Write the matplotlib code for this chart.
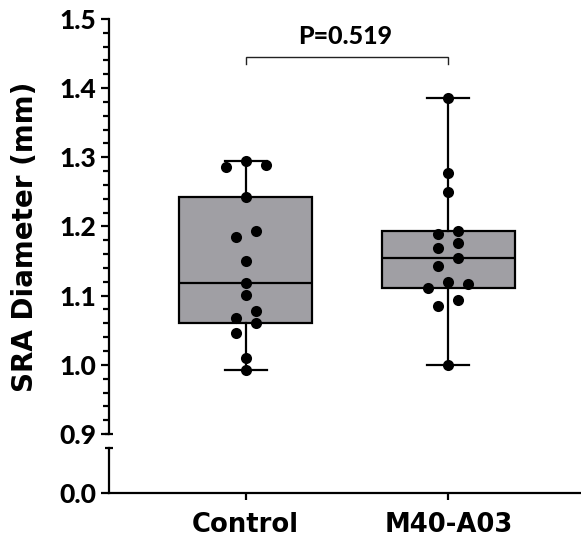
import numpy as np
import matplotlib
matplotlib.use("Agg")
import matplotlib.pyplot as plt
from matplotlib.ticker import MultipleLocator, FormatStrFormatter

# ---- data ----
categories = ["Control", "M40-A03"]
control = [1.2856, 1.2951, 1.2889, 1.2431, 1.1844, 1.1935, 1.1506, 1.1188,
           1.1005, 1.0779, 1.0682, 1.0601, 1.0465, 1.0103, 0.9925]
m40 = [1.3854, 1.2778, 1.2503, 1.1887, 1.1935, 1.1685, 1.1757, 1.1540,
       1.1429, 1.1115, 1.1193, 1.1164, 1.0938, 1.0855, 0.9998]
series = [control, m40]
p_text = "P=0.519"
upper_ticks = [0.9, 1.0, 1.1, 1.2, 1.3, 1.4, 1.5]
lower_ticks = [0.0]

NUM_FONT = "Lato"
LAB_FONT = "DejaVu Sans"
W, H = 581, 548
fig = plt.figure(figsize=(W / 100, H / 100), dpi=100)

def fy(px):
    return 1 - px / H

left = 109 / W
right = 1.0
ax = fig.add_axes([left, fy(434), right - left, fy(19) - fy(434)])
axl = fig.add_axes([left, fy(492.7), right - left, fy(447.7) - fy(492.7)])

xlim = (-0.675, 1.655)
LW = 1.6
box_color = "#a09fa4"

# ---- boxes (Prism-style quartiles) ----
stats = []
for vals in series:
    v = np.asarray(vals)
    stats.append(dict(med=np.median(v),
                      q1=np.percentile(v, 25, method="weibull"),
                      q3=np.percentile(v, 75, method="weibull"),
                      whislo=v.min(), whishi=v.max(), fliers=[]))
ax.bxp(stats, positions=[0, 1], widths=0.656, capwidths=0.207,
       patch_artist=True, showfliers=False,
       boxprops=dict(facecolor=box_color, edgecolor="black", linewidth=LW),
       medianprops=dict(color="black", linewidth=LW),
       whiskerprops=dict(color="black", linewidth=LW),
       capprops=dict(color="black", linewidth=LW), manage_ticks=False)

# ---- swarm-like dot placement ----
def swarm_offsets(vals, thresh=0.015, step=0.099):
    v = np.asarray(vals)
    order = np.argsort(-v)
    offs = np.zeros(len(v))
    groups = []
    cur = []
    start = None
    for i in order:
        if start is None or start - v[i] >= thresh:
            if cur:
                groups.append(cur)
            cur = [i]
            start = v[i]
        else:
            cur.append(i)
    if cur:
        groups.append(cur)
    for g in groups:
        k = len(g)
        if k % 2 == 1:
            slots = [0]
            for j in range(1, k // 2 + 1):
                slots += [j, -j]
        else:
            slots = []
            for j in range(k // 2):
                slots += [j + 0.5, -(j + 0.5)]
        for idx, s in zip(g, slots):
            offs[idx] = s * step
    return offs

for pos, vals in enumerate(series):
    offs = swarm_offsets(vals)
    ax.scatter(pos + offs, vals, s=64, color="black", zorder=5,
               linewidths=0, clip_on=False)

# ---- significance bracket ----
ax.plot([0, 0, 1, 1], [1.4345, 1.4446, 1.4446, 1.4345], color="#222222",
        lw=1.0, clip_on=False, solid_joinstyle="miter")
ax.text(0.49, 1.474, p_text, ha="center", va="center", fontsize=18,
        fontweight="black", family=NUM_FONT)

# ---- axes styling ----
for a in (ax, axl):
    a.set_xlim(*xlim)
    a.set_facecolor("none")
    for s in ("top", "right"):
        a.spines[s].set_visible(False)
    a.spines["left"].set_linewidth(LW)
    a.spines["bottom"].set_linewidth(LW)
    a.tick_params(axis="y", which="major", direction="out", length=6,
                  width=LW, pad=3, labelsize=19)
    a.tick_params(axis="y", which="minor", direction="out", length=4,
                  width=LW)

ax.spines["bottom"].set_visible(False)
ax.set_ylim(0.9, 1.5)
ax.set_yticks(upper_ticks)
ax.yaxis.set_minor_locator(MultipleLocator(0.02))
ax.yaxis.set_major_formatter(FormatStrFormatter("%.1f"))
ax.set_xticks([])

axl.set_ylim(0, 0.1)
axl.set_yticks(lower_ticks)
axl.yaxis.set_major_formatter(FormatStrFormatter("%.1f"))
axl.set_xticks([0, 1])
axl.set_xticklabels(categories)
axl.tick_params(axis="x", direction="out", length=5, width=LW, pad=9,
                labelsize=18.6)

for a in (ax, axl):
    for lab in a.get_yticklabels():
        lab.set_fontfamily(NUM_FONT)
        lab.set_fontweight("black")
    for lab in a.get_xticklabels():
        lab.set_fontfamily(LAB_FONT)
        lab.set_fontweight("bold")

# break caps on the y spine
for a, yv in ((ax, 0.0), (axl, 1.0)):
    a.plot([0], [yv], marker="_", markersize=6, mew=LW, color="black",
           transform=a.transAxes, clip_on=False)

fig.text(25 / W, fy(236.5), "SRA Diameter (mm)", rotation=90, ha="center",
         va="center", fontsize=20, fontweight="bold", family=LAB_FONT)

fig.savefig("out.png", dpi=100)
